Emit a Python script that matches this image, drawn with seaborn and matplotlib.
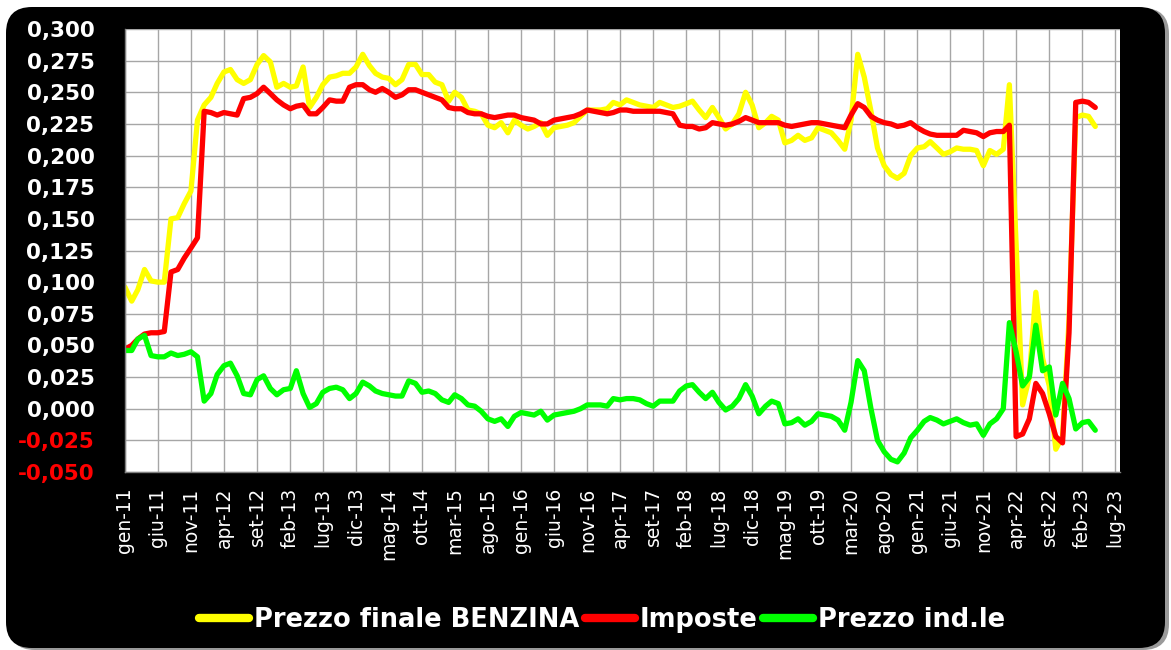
import numpy as np
import pandas as pd
import matplotlib
matplotlib.use("Agg")
import matplotlib.pyplot as plt
import matplotlib.transforms as mtransforms
from matplotlib.patches import FancyBboxPatch
from matplotlib.lines import Line2D
import seaborn as sns

# ---------------- data ----------------
dates = pd.date_range("2011-01-01", periods=148, freq="MS")

benzina = [
    0.096, 0.085, 0.094, 0.110, 0.101, 0.100, 0.100, 0.150, 0.151, 0.162,
    0.172, 0.228, 0.240, 0.246, 0.257, 0.266, 0.268, 0.260, 0.257, 0.260,
    0.272, 0.279, 0.274, 0.254, 0.257, 0.254, 0.255, 0.270, 0.238, 0.246,
    0.256, 0.262, 0.263, 0.265, 0.265, 0.270, 0.280, 0.271, 0.265, 0.262,
    0.261, 0.256, 0.260, 0.272, 0.272, 0.264, 0.264, 0.258, 0.256, 0.243,
    0.250, 0.246, 0.236, 0.235, 0.233, 0.224, 0.222, 0.226, 0.218, 0.228,
    0.224, 0.221, 0.223, 0.226, 0.216, 0.222, 0.223, 0.224, 0.226, 0.231,
    0.236, 0.236, 0.236, 0.237, 0.242, 0.240, 0.244, 0.242, 0.240, 0.239,
    0.238, 0.242, 0.240, 0.238, 0.239, 0.241, 0.243, 0.236, 0.230, 0.238,
    0.230, 0.221, 0.225, 0.233, 0.250, 0.240, 0.222, 0.226, 0.231, 0.228,
    0.210, 0.212, 0.216, 0.212, 0.214, 0.222, 0.220, 0.218, 0.212, 0.205,
    0.228, 0.280, 0.262, 0.235, 0.206, 0.192, 0.185, 0.182, 0.186, 0.200,
    0.206, 0.207, 0.211, 0.206, 0.201, 0.203, 0.206, 0.205, 0.205, 0.204,
    0.192, 0.204, 0.201, 0.205, 0.256, 0.130, 0.003, 0.025, 0.092, 0.040,
    0.018, -0.032, -0.022, 0.070, 0.230, 0.232, 0.231, 0.223,
]

imposte = [
    0.047, 0.050, 0.055, 0.059, 0.060, 0.060, 0.061, 0.108, 0.110, 0.119,
    0.127, 0.135, 0.235, 0.234, 0.232, 0.234, 0.233, 0.232, 0.245, 0.246,
    0.249, 0.254, 0.249, 0.244, 0.240, 0.237, 0.239, 0.240, 0.233, 0.233,
    0.238, 0.244, 0.243, 0.243, 0.254, 0.256, 0.256, 0.252, 0.250, 0.253,
    0.250, 0.246, 0.248, 0.252, 0.252, 0.250, 0.248, 0.246, 0.244, 0.238,
    0.237, 0.237, 0.234, 0.233, 0.233, 0.231, 0.230, 0.231, 0.232, 0.232,
    0.230, 0.229, 0.228, 0.225, 0.225, 0.228, 0.229, 0.230, 0.231, 0.233,
    0.236, 0.235, 0.234, 0.233, 0.234, 0.236, 0.236, 0.235, 0.235, 0.235,
    0.235, 0.235, 0.234, 0.233, 0.224, 0.223, 0.223, 0.221, 0.222, 0.226,
    0.225, 0.224, 0.225, 0.227, 0.230, 0.228, 0.226, 0.226, 0.226, 0.226,
    0.224, 0.223, 0.224, 0.225, 0.226, 0.226, 0.225, 0.224, 0.223, 0.222,
    0.232, 0.241, 0.238, 0.231, 0.228, 0.226, 0.225, 0.223, 0.224, 0.226,
    0.222, 0.219, 0.217, 0.216, 0.216, 0.216, 0.216, 0.220, 0.219, 0.218,
    0.215, 0.218, 0.219, 0.219, 0.224, -0.022, -0.020, -0.008, 0.020, 0.012,
    -0.004, -0.022, -0.027, 0.060, 0.242, 0.243, 0.242, 0.238,
]

industriale = [
    0.046, 0.046, 0.055, 0.058, 0.042, 0.041, 0.041, 0.044, 0.042, 0.043,
    0.045, 0.041, 0.006, 0.012, 0.027, 0.034, 0.036, 0.026, 0.012, 0.011,
    0.023, 0.026, 0.016, 0.011, 0.015, 0.016, 0.030, 0.012, 0.001, 0.004,
    0.013, 0.016, 0.017, 0.015, 0.008, 0.012, 0.021, 0.018, 0.014, 0.012,
    0.011, 0.010, 0.010, 0.022, 0.020, 0.013, 0.014, 0.012, 0.007, 0.005,
    0.011, 0.008, 0.003, 0.002, -0.002, -0.008, -0.010, -0.008, -0.014, -0.006,
    -0.003, -0.004, -0.005, -0.002, -0.009, -0.005, -0.004, -0.003, -0.002, 0.000,
    0.003, 0.003, 0.003, 0.002, 0.008, 0.007, 0.008, 0.008, 0.007, 0.004,
    0.002, 0.006, 0.006, 0.006, 0.014, 0.018, 0.019, 0.013, 0.008, 0.013,
    0.005, -0.001, 0.002, 0.008, 0.019, 0.010, -0.004, 0.002, 0.006, 0.004,
    -0.012, -0.011, -0.008, -0.013, -0.010, -0.004, -0.005, -0.006, -0.009, -0.017,
    0.005, 0.038, 0.030, 0.000, -0.025, -0.034, -0.040, -0.042, -0.035, -0.023,
    -0.017, -0.010, -0.007, -0.009, -0.012, -0.010, -0.008, -0.011, -0.013, -0.012,
    -0.021, -0.012, -0.008, 0.000, 0.068, 0.045, 0.018, 0.025, 0.066, 0.030,
    0.033, -0.005, 0.020, 0.008, -0.016, -0.011, -0.010, -0.017,
]

series_names = ["Prezzo finale BENZINA", "Imposte", "Prezzo ind.le"]
series_colors = ["#FFFF00", "#FF0000", "#00FF00"]

tick_dates = pd.date_range("2011-01-01", periods=31, freq="5MS")
tick_labels = [
    "gen-11", "giu-11", "nov-11", "apr-12", "set-12", "feb-13", "lug-13",
    "dic-13", "mag-14", "ott-14", "mar-15", "ago-15", "gen-16", "giu-16",
    "nov-16", "apr-17", "set-17", "feb-18", "lug-18", "dic-18", "mag-19",
    "ott-19", "mar-20", "ago-20", "gen-21", "giu-21", "nov-21", "apr-22",
    "set-22", "feb-23", "lug-23",
]
y_ticks = [-0.050, -0.025, 0.000, 0.025, 0.050, 0.075, 0.100, 0.125,
           0.150, 0.175, 0.200, 0.225, 0.250, 0.275, 0.300]

df = pd.DataFrame({
    "data": np.tile(dates, 3),
    "valore": benzina + imposte + industriale,
    "serie": np.repeat(series_names, len(dates)),
})

# ---------------- style ----------------
sns.set_style("white")
plt.rcParams["font.family"] = ["DejaVu Sans"]

W, H = 1171, 650
fig = plt.figure(figsize=(W / 100, H / 100), dpi=100, facecolor="white")

# rounded black background with light shadow
shadow = FancyBboxPatch((9, 0), W - 11, H - 8,
                        boxstyle="round,pad=0,rounding_size=26",
                        transform=mtransforms.IdentityTransform(),
                        facecolor="#9a9a9a", edgecolor="none", zorder=-3)
bg = FancyBboxPatch((6, 2), W - 12, H - 9,
                    boxstyle="round,pad=0,rounding_size=26",
                    transform=mtransforms.IdentityTransform(),
                    facecolor="black", edgecolor="none", zorder=-2)
fig.patches.extend([shadow, bg])

ax = fig.add_axes([125 / W, 1 - 472 / H, (1120 - 125) / W, (472 - 29) / H])
ax.set_facecolor("white")

sns.lineplot(data=df, x="data", y="valore", hue="serie",
             hue_order=series_names, palette=series_colors,
             linewidth=3.8, ax=ax, legend=False)

ax.set_xlim(pd.Timestamp("2011-01-01"), pd.Timestamp("2023-07-24"))
ax.set_ylim(-0.050, 0.300)

ax.set_xticks(tick_dates)
ax.set_xticklabels(tick_labels, rotation=90, fontsize=13.5, color="white")
ax.set_yticks(y_ticks)
ax.set_yticklabels([f"{v:.3f}".replace(".", ",") for v in y_ticks],
                   fontsize=15.5, fontweight="bold")
for lab, v in zip(ax.get_yticklabels(), y_ticks):
    lab.set_color("#FF0000" if v < 0 else "white")

offset = mtransforms.ScaledTranslation(3 / 100, 0, fig.dpi_scale_trans)
for lab in ax.get_xticklabels():
    lab.set_transform(lab.get_transform() + offset)

ax.grid(True, color="#a6a6a6", linewidth=1)
ax.set_axisbelow(True)
ax.tick_params(axis="both", direction="out", length=5, width=1,
               color="#808080")
ax.tick_params(axis="y", pad=17)
ax.tick_params(axis="x", pad=6)
for side in ["top", "right"]:
    ax.spines[side].set_visible(False)
for side in ["left", "bottom"]:
    ax.spines[side].set_color("#808080")
    ax.spines[side].set_linewidth(1)
ax.set_xlabel("")
ax.set_ylabel("")

handles = [Line2D([0], [0], color=c, linewidth=6) for c in series_colors]
leg = fig.legend(handles, series_names, loc="center",
                 bbox_to_anchor=(602 / W, 1 - 620 / H), ncol=3, frameon=False,
                 handlelength=1.95, handletextpad=0.2, columnspacing=0.2,
                 prop={"size": 18.5, "weight": "bold"})
for t in leg.get_texts():
    t.set_color("white")

fig.savefig("out.png", dpi=100, facecolor="white")
